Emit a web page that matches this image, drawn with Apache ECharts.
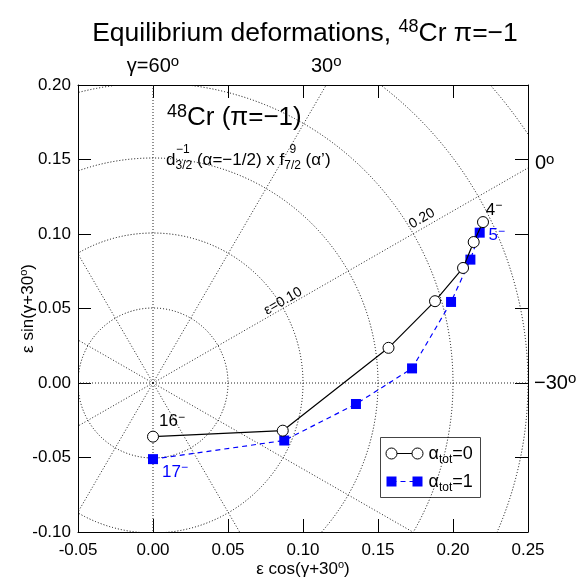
<!DOCTYPE html>
<html>
<head>
<meta charset="utf-8">
<script src="https://cdn.jsdelivr.net/npm/echarts@6/dist/echarts.min.js"></script>
<style>
  html, body { margin: 0; padding: 0; background: #fff; }
  #chart { width: 587px; height: 582px; }
</style>
</head>
<body>
<div id="chart"></div>
<script>
const FONT = '"Liberation Sans", Arial, Helvetica, sans-serif';

// Axis ranges and tick spacing
const xRange = [-0.05, 0.25];
const yRange = [-0.10, 0.20];
const tickStep = 0.05;

// Polar (epsilon, gamma) reference grid: rings of constant epsilon, spokes every 30 deg
const ringRadii = [0.05, 0.10, 0.15, 0.20, 0.25, 0.30, 0.35];
const spokeAngles = [0, 30, 60, 90, 120, 150, 180, 210, 240, 270, 300, 330];

// Equilibrium deformations, alpha_tot = 0 (spins 16- down to 4-)
const alpha0X = [0.000, 0.0865, 0.157, 0.188, 0.2067, 0.2138, 0.220];
const alpha0Y = [-0.036, -0.032, 0.0236, 0.0549, 0.0772, 0.0946, 0.108];
const alpha0Ends = ['16', '4'];

// Equilibrium deformations, alpha_tot = 1 (spins 17- down to 5-)
const alpha1X = [0.000, 0.0875, 0.1353, 0.1727, 0.1987, 0.2116, 0.2178];
const alpha1Y = [-0.0511, -0.0386, -0.0141, 0.0098, 0.0544, 0.0828, 0.1009];
const alpha1Ends = ['17', '5'];

const BLUE = '#0000ff';

function st(size, extra) {
  return Object.assign({ fontFamily: FONT, fontSize: size, fontWeight: 'normal', color: '#000' }, extra || {});
}

const rich = {
  n:   st(17, { lineHeight: 20 }),
  nb:  st(17, { color: BLUE, lineHeight: 20 }),
  s:   st(12, { verticalAlign: 'top', lineHeight: 10 }),
  sb:  st(12, { color: BLUE, verticalAlign: 'top', lineHeight: 10 }),
  g:   st(20, { lineHeight: 24 }),
  gs:  st(15, { verticalAlign: 'top', lineHeight: 10 }),
  big: st(26, { lineHeight: 30 }),
  bs:  st(18, { verticalAlign: 'top', lineHeight: 16 }),
  m:   st(17, { lineHeight: 22 }),
  sub: st(12, { verticalAlign: 'bottom', lineHeight: 10 }),
  up:  st(12, { lineHeight: 14 }),
  eps: st(14, { lineHeight: 16 })
};

function zip(xs, ys) { return xs.map((x, i) => [x, ys[i]]); }

function withEndLabels(points, ends, styles, offsets) {
  return points.map((p, i) => {
    const k = i === 0 ? 0 : (i === points.length - 1 ? 1 : -1);
    if (k < 0) return p;
    return {
      value: p,
      label: {
        show: true,
        position: 'inside',
        offset: offsets[k],
        formatter: '{' + styles[0] + '|' + ends[k] + '}{' + styles[1] + '|−}',
        rich: rich
      }
    };
  });
}

// Text notes placed in data coordinates
const notes = [
  { value: [0.0, 0.2125], pos: 'inside', text: '{g|γ=60}{gs|o}' },
  { value: [0.1155, 0.2125], pos: 'inside', text: '{g|30}{gs|o}' },
  { value: [0.25, 0.147], pos: 'right', dist: 7, text: '{g|0}{gs|o}' },
  { value: [0.25, 0.0], pos: 'right', dist: 6, text: '{g|−30}{gs|o}' },
  { value: [0.0093, 0.178], pos: 'right', dist: 0, text: '{bs|48}{big|Cr (π=−1)}' },
  { value: [0.0087, 0.1495], pos: 'right', dist: 0, text: '{m|d}{sub|3/2}{m| (α=−1/2) x f}{sub|7/2}{m| (α\u2019)}' },
  { value: [0.0153, 0.1565], pos: 'right', dist: 0, text: '{up|−1}' },
  { value: [0.0910, 0.1565], pos: 'right', dist: 0, text: '{up|9}' },
  { value: [0.0867, 0.0549], pos: 'inside', rot: 30, text: '{eps|ε=0.10}' },
  { value: [0.1793, 0.1104], pos: 'inside', rot: 30, text: '{eps|0.20}' }
];

const chart = echarts.init(document.getElementById('chart'), null, { renderer: 'canvas' });

const axisCommon = {
  type: 'value',
  interval: tickStep,
  axisLine: { show: true, onZero: false, lineStyle: { color: '#000', width: 1 } },
  axisTick: { show: true, inside: true, length: 13, lineStyle: { color: '#000', width: 1 } },
  splitLine: { show: false }
};

const nameRich = {
  a: st(17, { lineHeight: 20 }),
  b: st(11, { verticalAlign: 'top', lineHeight: 10 })
};

const option = {
  animation: false,
  backgroundColor: '#fff',
  title: {
    text: '{t|Equilibrium deformations, }{ts|48}{t|Cr π=−1}',
    left: 300,
    top: 13,
    textAlign: 'center',
    textStyle: {
      fontWeight: 'normal',
      rich: {
        t:  st(26.5, { lineHeight: 32 }),
        ts: st(18, { verticalAlign: 'top', lineHeight: 14 })
      }
    }
  },
  grid: { left: 78, right: 59, top: 85, bottom: 50, containLabel: false, outerBoundsMode: 'none' },
  xAxis: [
    Object.assign({}, axisCommon, {
      position: 'bottom',
      min: xRange[0], max: xRange[1],
      axisLabel: { fontFamily: FONT, fontSize: 17, color: '#000', margin: 10, formatter: v => v.toFixed(2) },
      name: '{a|ε cos(γ+30}{b|o}{a|)}',
      nameLocation: 'middle',
      nameGap: 27,
      nameMoveOverlap: false,
      nameTextStyle: { rich: nameRich }
    }),
    Object.assign({}, axisCommon, {
      position: 'top',
      min: xRange[0], max: xRange[1],
      axisLabel: { show: false }
    })
  ],
  yAxis: [
    Object.assign({}, axisCommon, {
      position: 'left',
      min: yRange[0], max: yRange[1],
      axisLabel: { fontFamily: FONT, fontSize: 17, color: '#000', margin: 7, formatter: v => v.toFixed(2) },
      name: '{a|ε sin(γ+30}{b|o}{a|)}',
      nameLocation: 'middle',
      nameGap: 40,
      nameRotate: 90,
      nameMoveOverlap: false,
      nameTextStyle: { rich: nameRich }
    }),
    Object.assign({}, axisCommon, {
      position: 'right',
      min: yRange[0], max: yRange[1],
      axisLabel: { show: false }
    })
  ],
  series: [
    {
      // rings of constant epsilon
      type: 'custom',
      name: 'rings',
      silent: true,
      z: 1,
      clip: true,
      data: ringRadii.map(r => [r, 0]),
      renderItem: function (params, api) {
        const c = api.coord([0, 0]);
        const e = api.coord([api.value(0), 0]);
        const cs = params.coordSys;
        return {
          type: 'circle',
          shape: { cx: c[0], cy: c[1], r: e[0] - c[0] },
          clipPath: { type: 'rect', shape: { x: cs.x, y: cs.y, width: cs.width, height: cs.height } },
          style: { fill: 'none', stroke: '#000', lineWidth: 1, lineDash: [1, 2] }
        };
      }
    },
    {
      // spokes of constant gamma
      type: 'custom',
      name: 'spokes',
      silent: true,
      z: 1,
      clip: true,
      data: spokeAngles.map(a => [a, 0]),
      renderItem: function (params, api) {
        const a = api.value(0) * Math.PI / 180;
        const c = api.coord([0, 0]);
        const e = api.coord([0.5 * Math.cos(a), 0.5 * Math.sin(a)]);
        const cs = params.coordSys;
        return {
          type: 'line',
          shape: { x1: c[0], y1: c[1], x2: e[0], y2: e[1] },
          clipPath: { type: 'rect', shape: { x: cs.x, y: cs.y, width: cs.width, height: cs.height } },
          style: { stroke: '#222', lineWidth: 1, lineDash: [1, 2] }
        };
      }
    },
    {
      type: 'line',
      name: 'alpha_tot=0',
      z: 5,
      data: withEndLabels(zip(alpha0X, alpha0Y), alpha0Ends, ['n', 's'], [[19, -15], [11, -12]]),
      symbol: 'circle',
      symbolSize: 11,
      showAllSymbol: true,
      itemStyle: { color: '#fff', borderColor: '#000', borderWidth: 1 },
      lineStyle: { color: '#000', width: 1.2 },
      emphasis: { disabled: true }
    },
    {
      type: 'line',
      name: 'alpha_tot=1',
      z: 4,
      data: withEndLabels(zip(alpha1X, alpha1Y), alpha1Ends, ['nb', 'sb'], [[22, 13], [17, 3]]),
      symbol: 'rect',
      symbolSize: 10,
      showAllSymbol: true,
      itemStyle: { color: BLUE },
      lineStyle: { color: BLUE, width: 1.2, type: [5, 4] },
      emphasis: { disabled: true }
    },
    {
      type: 'scatter',
      name: 'notes',
      silent: true,
      clip: false,
      z: 6,
      symbolSize: 0,
      data: notes.map(n => ({
        value: n.value,
        label: {
          show: true,
          position: n.pos,
          distance: n.dist || 0,
          rotate: n.rot || 0,
          color: '#000',
          formatter: n.text,
          rich: rich
        }
      })),
      itemStyle: { color: '#000', opacity: 1 }
    }
  ],
  graphic: [
    {
      type: 'group',
      left: 380,
      top: 437,
      z: 100,
      children: [
        { type: 'rect', shape: { x: 0, y: 0, width: 100, height: 60 },
          style: { fill: '#fff', stroke: '#444', lineWidth: 1 } },
        { type: 'line', shape: { x1: 11, y1: 16, x2: 37, y2: 16 },
          style: { stroke: '#000', lineWidth: 1 } },
        { type: 'circle', shape: { cx: 11, cy: 16, r: 5.5 },
          style: { fill: '#fff', stroke: '#000', lineWidth: 1 } },
        { type: 'circle', shape: { cx: 37, cy: 16, r: 5.5 },
          style: { fill: '#fff', stroke: '#000', lineWidth: 1 } },
        { type: 'text', x: 48, y: 17,
          style: { text: '{a|α}{b|tot}{a|=0}', verticalAlign: 'middle',
            rich: { a: st(18, { lineHeight: 22 }), b: st(12, { verticalAlign: 'bottom', lineHeight: 10 }) } } },
        { type: 'line', shape: { x1: 11, y1: 44, x2: 37, y2: 44 },
          style: { stroke: BLUE, lineWidth: 1, lineDash: [5, 4] } },
        { type: 'rect', shape: { x: 6, y: 39, width: 10, height: 10 },
          style: { fill: BLUE } },
        { type: 'rect', shape: { x: 32, y: 39, width: 10, height: 10 },
          style: { fill: BLUE } },
        { type: 'text', x: 48, y: 45,
          style: { text: '{a|α}{b|tot}{a|=1}', verticalAlign: 'middle',
            rich: { a: st(18, { lineHeight: 22 }), b: st(12, { verticalAlign: 'bottom', lineHeight: 10 }) } } }
      ]
    }
  ]
};

chart.setOption(option);
</script>
</body>
</html>
